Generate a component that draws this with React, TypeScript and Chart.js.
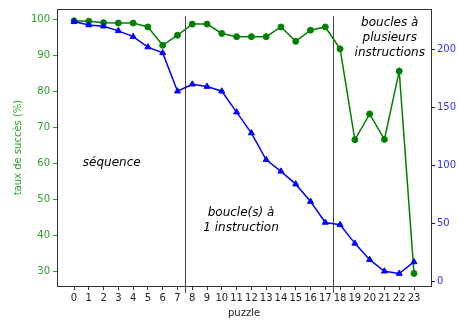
import React, { useEffect, useRef } from "react";
import { Chart, registerables } from "chart.js";

Chart.register(...registerables);

// ---- data ----
const puzzles = [0, 1, 2, 3, 4, 5, 6, 7, 8, 9, 10, 11, 12, 13, 14, 15, 16, 17, 18, 19, 20, 21, 22, 23];
const successRate = [99.7, 99.6, 99.2, 99.1, 99.1, 98.0, 92.9, 95.7, 98.8, 98.8, 96.2, 95.3, 95.3, 95.3, 98.0, 94.0, 97.1, 98.0, 91.9, 66.6, 73.8, 66.7, 85.7, 29.4];
const playerCount = [224, 221, 220, 216, 211, 202, 197, 164, 170, 168, 164, 146, 128, 105, 95, 84, 69, 51, 49, 33, 19, 9, 7, 17];
const leftTicks = [30, 40, 50, 60, 70, 80, 90, 100];
const rightTicks = [0, 50, 100, 150, 200];
const separators = [7.5, 17.5];
const separatorSpan = [24, 101];
const sectionLabels = [
  { x: 2.55, y: 60.3, lines: ["séquence"] },
  { x: 11.3, y: 44.2, lines: ["boucle(s) à", "1 instruction"] },
  { x: 21.36, y: 95.1, lines: ["boucles à", "plusieurs", "instructions"] },
];

const FONT = "'DejaVu Sans', sans-serif";
const GREEN = "#008000";
const GREEN_LABEL = "#2ca02c";
const BLUE = "#0000ff";
const FRAME = "#333333";

const decorPlugin = {
  id: "decor",
  beforeDatasetsDraw(chart: any) {
    const { ctx, chartArea, scales } = chart;
    const x = scales.x;
    const y = scales.yL;
    ctx.save();
    ctx.strokeStyle = "#444444";
    ctx.lineWidth = 1;
    for (const s of separators) {
      const px = Math.round(x.getPixelForValue(s)) + 0.5;
      ctx.beginPath();
      ctx.moveTo(px, y.getPixelForValue(separatorSpan[1]));
      ctx.lineTo(px, y.getPixelForValue(separatorSpan[0]));
      ctx.stroke();
    }
    // top frame
    ctx.strokeStyle = FRAME;
    ctx.beginPath();
    ctx.moveTo(chartArea.left, chartArea.top + 0.5);
    ctx.lineTo(chartArea.right, chartArea.top + 0.5);
    ctx.stroke();
    ctx.restore();
  },
  afterDatasetsDraw(chart: any) {
    const { ctx, scales } = chart;
    const x = scales.x;
    const y = scales.yL;
    ctx.save();
    ctx.fillStyle = "#000000";
    ctx.font = `italic 12px ${FONT}`;
    ctx.textAlign = "center";
    ctx.textBaseline = "middle";
    const lh = 15;
    for (const lbl of sectionLabels) {
      const cx = x.getPixelForValue(lbl.x);
      const cy = y.getPixelForValue(lbl.y);
      const n = lbl.lines.length;
      lbl.lines.forEach((t, i) => {
        ctx.fillText(t, cx, cy + (i - (n - 1) / 2) * lh);
      });
    }
    ctx.restore();
  },
};

export default function App() {
  const ref = useRef<HTMLCanvasElement | null>(null);
  useEffect(() => {
    if (!ref.current) return;
    const chart = new Chart(ref.current, {
      type: "line",
      data: {
        datasets: [
          {
            label: "joueurs",
            data: puzzles.map((p, i) => ({ x: p, y: playerCount[i] })),
            yAxisID: "yR",
            borderColor: BLUE,
            backgroundColor: BLUE,
            borderWidth: 1.5,
            pointStyle: "triangle",
            pointRadius: 3.5,
            pointBorderWidth: 1,
            order: 0,
          },
          {
            label: "taux",
            data: puzzles.map((p, i) => ({ x: p, y: successRate[i] })),
            yAxisID: "yL",
            borderColor: GREEN,
            backgroundColor: GREEN,
            borderWidth: 1.5,
            pointStyle: "circle",
            pointRadius: 3,
            pointBorderWidth: 1,
            order: 1,
          },
        ],
      },
      options: {
        responsive: false,
        animation: false,
        layout: { padding: { top: 7, left: 0, right: 0, bottom: 0 } },
        plugins: { legend: { display: false }, tooltip: { enabled: false } },
        scales: {
          x: {
            type: "linear",
            min: -1.15,
            max: 24.15,
            afterBuildTicks: (s: any) => {
              s.ticks = puzzles.map((v) => ({ value: v }));
            },
            afterFit: (s: any) => {
              s.height = 34;
            },
            grid: { drawOnChartArea: false, drawTicks: true, tickLength: 4, tickColor: FRAME },
            border: { display: true, color: FRAME, width: 1 },
            ticks: {
              autoSkip: false,
              maxRotation: 0,
              minRotation: 0,
              padding: 2,
              color: "#222222",
              font: { family: FONT, size: 10 },
            },
            title: {
              display: true,
              text: "puzzle",
              color: "#222222",
              font: { family: FONT, size: 10 },
              padding: { top: 0, bottom: 1 },
            },
          },
          yL: {
            type: "linear",
            position: "left",
            min: 25.9,
            max: 103.0,
            afterBuildTicks: (s: any) => {
              s.ticks = leftTicks.map((v) => ({ value: v }));
            },
            afterFit: (s: any) => {
              s.width = 57;
            },
            grid: { drawOnChartArea: false, drawTicks: true, tickLength: 4, tickColor: GREEN_LABEL },
            border: { display: true, color: FRAME, width: 1 },
            ticks: { padding: 3, color: GREEN_LABEL, font: { family: FONT, size: 10 } },
            title: {
              display: true,
              text: "taux de succès (%)",
              color: GREEN_LABEL,
              font: { family: FONT, size: 10 },
              padding: { top: 12, bottom: 0 },
            },
          },
          yR: {
            type: "linear",
            position: "right",
            min: -3.7,
            max: 234.8,
            afterBuildTicks: (s: any) => {
              s.ticks = rightTicks.map((v) => ({ value: v }));
            },
            afterFit: (s: any) => {
              s.width = 27;
            },
            grid: { drawOnChartArea: false, drawTicks: true, tickLength: 4, tickColor: BLUE },
            border: { display: true, color: FRAME, width: 1 },
            ticks: { padding: 2, color: "#3030ff", font: { family: FONT, size: 10 } },
          },
        },
      } as any,
      plugins: [decorPlugin],
    });
    return () => chart.destroy();
  }, []);
  return (
    <div style={{ position: "fixed", left: 0, top: 0, width: 458, height: 320, background: "#ffffff" }}>
      <canvas ref={ref} width={458} height={320} style={{ width: 458, height: 320, display: "block" }} />
    </div>
  );
}
